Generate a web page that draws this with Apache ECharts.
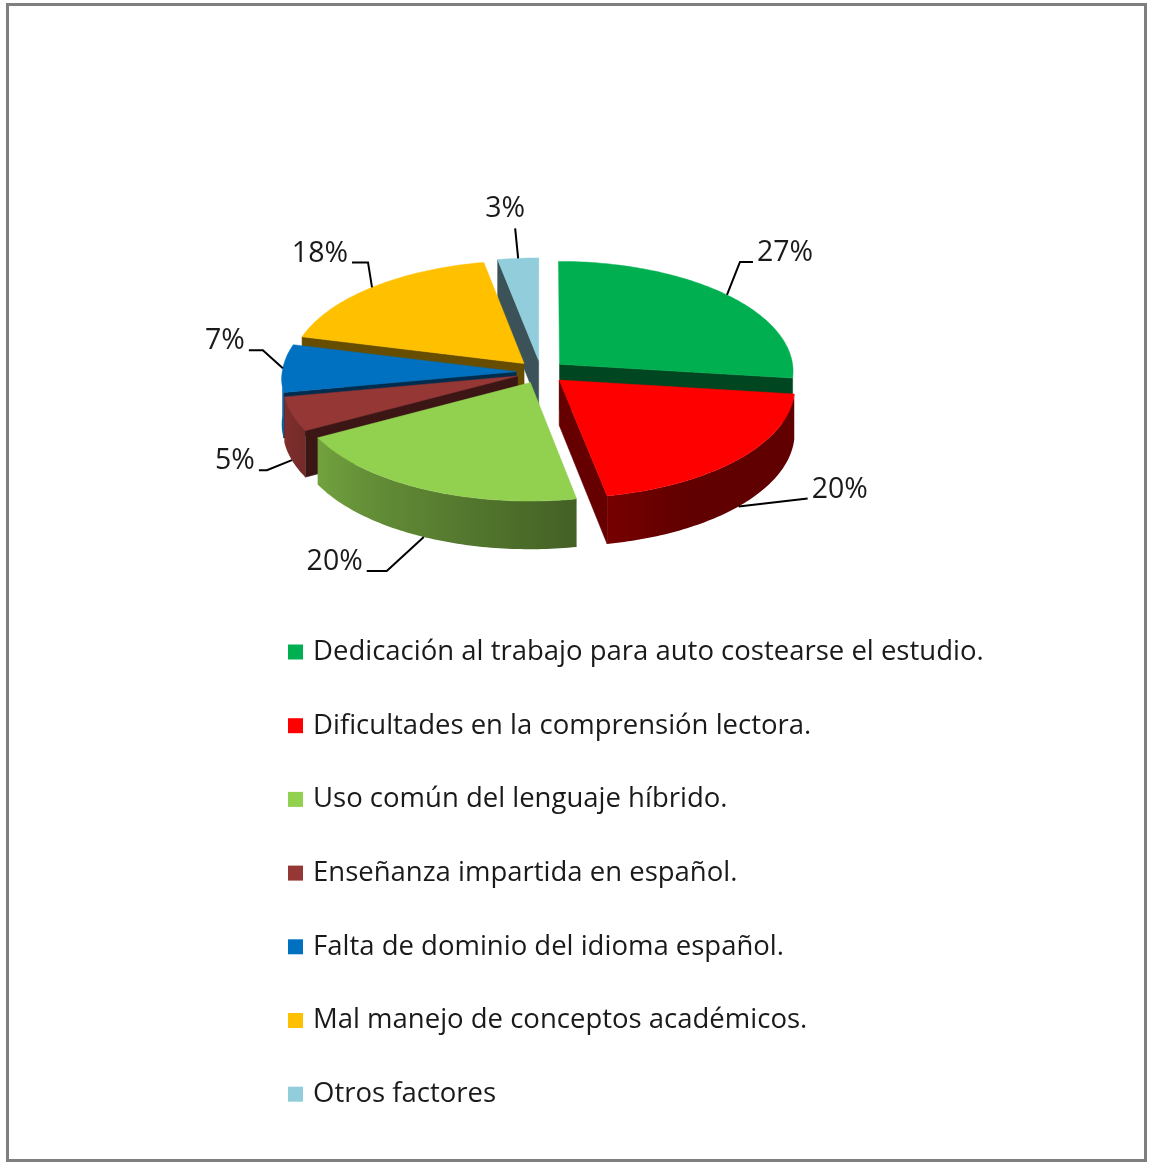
<!DOCTYPE html>
<html>
<head>
<meta charset="utf-8">
<script src="https://cdn.jsdelivr.net/npm/echarts@6/dist/echarts.min.js"></script>
<style>
  html, body { margin: 0; padding: 0; background: #ffffff; }
  #chart { width: 1149px; height: 1163px; }
</style>
</head>
<body>
<div id="chart"></div>
<script>
// Factors reported for low academic performance (share of responses, %)
const CATEGORIES = [
  'Dedicación al trabajo para auto costearse el estudio.',
  'Dificultades en la comprensión lectora.',
  'Uso común del lenguaje híbrido.',
  'Enseñanza impartida en español.',
  'Falta de dominio del idioma español.',
  'Mal manejo de conceptos académicos.',
  'Otros factores'
];
const VALUES = [27, 20, 20, 5, 7, 18, 3];
const COLORS = ['#00B050', '#FF0000', '#92D050', '#953735', '#0070C0', '#FFC000', '#92CDDC'];

// Leader-line routing for each percentage label: elbow offset from the rim anchor,
// horizontal run after the elbow, and the side the text sits on.
const LEADERS = [
  { dx: 13,  dy: -33, run: 13,  side: 'right' },
  { dx: 69,  dy: -8,  run: 0,   side: 'right' },
  { dx: -37, dy: 34,  run: -20, side: 'left' },
  { dx: -25, dy: 10,  run: -8,  side: 'left' },
  { dx: -20, dy: -18, run: -14, side: 'left' },
  { dx: -4,  dy: -25, run: -16, side: 'left' },
  { dx: -3,  dy: -30, run: 0,   side: 'top' }
];

// Projection of the tilted, exploded 3D pie
const CX = 541, CY = 372;        // pie centre on screen
const RX = 234, RY = 110;        // ellipse radii of the top face
const DEPTH = 45;                // slab thickness
const PERSP = 0.06;              // front-to-back perspective factor
const EXPLODE = 0.106;           // slice offset, fraction of the radius
const DEG = Math.PI / 180;
const FONT = "'Open Sans', 'Noto Sans', sans-serif";

const TOTAL = VALUES.reduce((a, b) => a + b, 0);
const ANGLES = [];
(function () {
  let acc = 0;
  VALUES.forEach(v => {
    const a0 = acc / TOTAL * 360;
    acc += v;
    ANGLES.push([a0, acc / TOTAL * 360]);
  });
})();

function proj(X, Z, h) {
  const s = 1 / (1 + PERSP * Z);
  return [CX + RX * X * s, CY - RY * Z * s + DEPTH * h * s];
}

function shade(hex, f) {
  const n = parseInt(hex.slice(1), 16);
  const r = Math.round(((n >> 16) & 255) * f);
  const g = Math.round(((n >> 8) & 255) * f);
  const b = Math.round((n & 255) * f);
  return 'rgb(' + r + ',' + g + ',' + b + ')';
}

// lighting of the outer wall: brighter toward the front-left
function wallFactor(t) {
  const k = Math.min(1, Math.max(0, (t - 150) / 110));
  return 0.38 + 0.48 * k;
}

function renderSlice(params, api) {
  const i = params.seriesIndex;
  const [a0, a1] = ANGLES[i];
  const m = (a0 + a1) / 2;
  const ox = Math.sin(m * DEG) * EXPLODE;
  const oz = Math.cos(m * DEG) * EXPLODE;
  const color = COLORS[i];
  const rim = (t, h) => proj(ox + Math.sin(t * DEG), oz + Math.cos(t * DEG), h);
  const ctr = h => proj(ox, oz, h);
  const children = [];

  // radial cut faces, only those turned toward the viewer
  [[a0, a0 - 90], [a1, a1 + 90]].forEach(([a, normal]) => {
    if (Math.cos(normal * DEG) < -0.01) {
      const zMid = oz + Math.cos(a * DEG) * 0.5;
      children.push({
        type: 'polygon',
        z2: 10 + Math.round((2 - zMid) * 40),
        shape: { points: [ctr(0), rim(a, 0), rim(a, 1), ctr(1)] },
        style: { fill: shade(color, 0.4), stroke: shade(color, 0.4), lineWidth: 0.5 }
      });
    }
  });

  // curved outer wall across the front half
  const ts = Math.max(a0, 90), te = Math.min(a1, 270);
  if (te > ts) {
    const pts = [];
    const steps = Math.max(2, Math.ceil(te - ts));
    for (let k = 0; k <= steps; k++) pts.push(rim(ts + (te - ts) * k / steps, 0));
    for (let k = steps; k >= 0; k--) pts.push(rim(ts + (te - ts) * k / steps, 1));
    const samples = [];
    for (let k = 0; k <= 8; k++) {
      const t = ts + (te - ts) * k / 8;
      samples.push({ x: rim(t, 0)[0], color: shade(color, wallFactor(t)) });
    }
    const xs = samples.map(s => s.x);
    const xmin = Math.min(...xs), xmax = Math.max(...xs);
    let fill;
    if (xmax - xmin < 2) {
      fill = samples[4].color;
    } else {
      const stops = samples.map(s => ({
        offset: Math.min(1, Math.max(0, (s.x - xmin) / (xmax - xmin))),
        color: s.color
      })).sort((p, q) => p.offset - q.offset);
      fill = new echarts.graphic.LinearGradient(xmin, 0, xmax, 0, stops, true);
    }
    const zMid = oz + Math.cos((ts + te) / 2 * DEG);
    children.push({
      type: 'polygon',
      z2: 200 + Math.round((2 - zMid) * 40),
      shape: { points: pts },
      style: { fill: fill }
    });
  }

  // top face
  const top = [ctr(0)];
  const n = Math.max(2, Math.ceil(a1 - a0));
  for (let k = 0; k <= n; k++) top.push(rim(a0 + (a1 - a0) * k / n, 0));
  children.push({
    type: 'polygon',
    z2: 500,
    shape: { points: top },
    style: { fill: color, stroke: color, lineWidth: 0.5 }
  });

  // percentage label with leader line
  const front = Math.cos(m * DEG) < 0;
  const anchor = rim(m, front ? 1 : 0);
  const L = LEADERS[i];
  const elbow = [anchor[0] + L.dx, anchor[1] + L.dy];
  const end = [elbow[0] + L.run, elbow[1]];
  children.push({
    type: 'polyline',
    z2: 600,
    shape: { points: [anchor, elbow, end] },
    style: { stroke: '#000000', lineWidth: 2, fill: null }
  });
  let tx, ty, align;
  if (L.side === 'right') { tx = end[0] + 4; ty = end[1] - 9; align = 'left'; }
  else if (L.side === 'left') { tx = end[0] - 4; ty = end[1] - 9; align = 'right'; }
  else { tx = end[0] - 10; ty = end[1] - 20; align = 'center'; }
  children.push({
    type: 'text',
    z2: 600,
    x: tx, y: ty,
    style: {
      text: VALUES[i] + '%',
      fill: '#1a1a1a',
      fontSize: 28.5,
      fontFamily: FONT,
      align: align,
      verticalAlign: 'middle'
    }
  });

  return { type: 'group', children: children };
}

const chart = echarts.init(document.getElementById('chart'), null, { renderer: 'canvas' });

chart.setOption({
  backgroundColor: '#ffffff',
  animation: false,
  graphic: [{
    type: 'rect',
    shape: { x: 7.5, y: 4.5, width: 1138, height: 1156 },
    style: { fill: null, stroke: '#7f7f7f', lineWidth: 3 },
    silent: true
  }],
  legend: {
    orient: 'vertical',
    left: 283,
    top: 632,
    icon: 'rect',
    itemWidth: 15,
    itemHeight: 15,
    itemGap: 43.7,
    data: CATEGORIES,
    textStyle: {
      fontFamily: FONT,
      fontSize: 27.5,
      lineHeight: 30,
      color: '#1a1a1a',
      padding: [0, 0, 0, 5]
    }
  },
  series: CATEGORIES.map((name, i) => ({
    type: 'custom',
    name: name,
    coordinateSystem: 'none',
    itemStyle: { color: COLORS[i] },
    data: [VALUES[i]],
    renderItem: renderSlice
  }))
});
</script>
</body>
</html>
